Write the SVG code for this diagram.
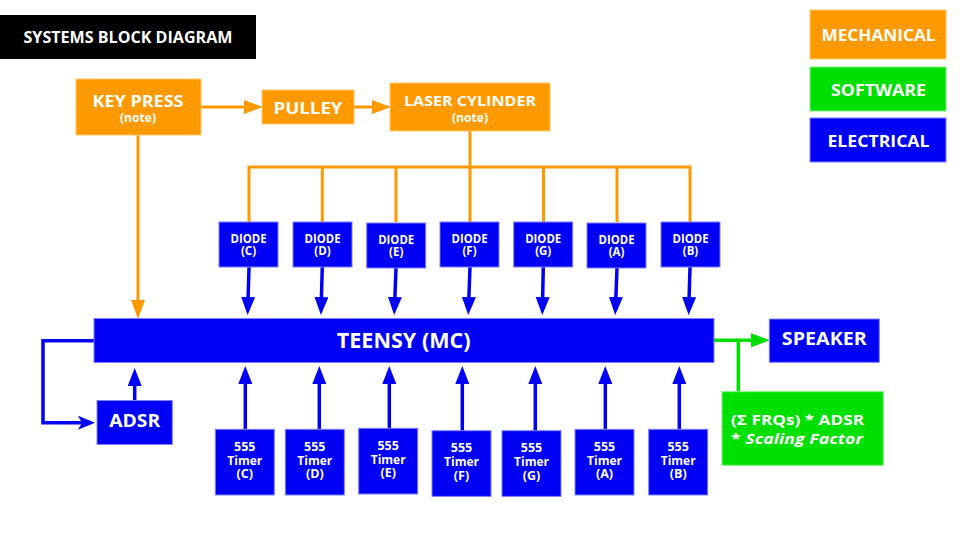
<svg xmlns="http://www.w3.org/2000/svg" width="960" height="540" viewBox="0 0 960 540">
<style>
text{font-family:"Open Sans","DejaVu Sans",sans-serif;font-weight:700;fill:#fff;text-anchor:middle}
.o{fill:#ff9900;stroke:#ffc766;stroke-width:1}
.b{fill:#0000f5;stroke:#7f7fff;stroke-width:1}
.g{fill:#00e000;stroke:#80f080;stroke-width:1}
.lo{stroke:#ff9900;stroke-width:3;fill:none}
.lb{stroke:#0000f5;stroke-width:3.5;fill:none}
.lg{stroke:#00e000;stroke-width:3.5;fill:none}
.s16{font-size:16px}
.s11{font-size:11.5px}
.s12{font-size:12.5px}
</style>
<defs>
<marker id="ao" markerUnits="userSpaceOnUse" markerWidth="20" markerHeight="16" refX="8" refY="7" orient="auto"><path d="M0,0 L19,7 L0,14 z" fill="#ff9900"/></marker>
<marker id="ab" markerUnits="userSpaceOnUse" markerWidth="20" markerHeight="16" refX="8" refY="7" orient="auto"><path d="M0,0 L18,7 L0,14 z" fill="#0000f5"/></marker>
<marker id="ag" markerUnits="userSpaceOnUse" markerWidth="20" markerHeight="16" refX="8" refY="7" orient="auto"><path d="M0,0 L19,7 L0,14 z" fill="#00e000"/></marker>
<marker id="as" markerUnits="userSpaceOnUse" markerWidth="20" markerHeight="16" refX="8" refY="7" orient="auto"><path d="M0,0 L17,7 L0,14 L4,7 z" fill="#0000f5"/></marker>
</defs>
<rect width="960" height="540" fill="#fff"/>

<g id="title">
<rect x="0" y="15" width="256" height="44" fill="#000"/>
<text x="128" y="43.3" class="s16" textLength="209" lengthAdjust="spacingAndGlyphs">SYSTEMS BLOCK DIAGRAM</text>
</g>

<g id="legend-mechanical"><rect x="810" y="10" width="136" height="49" class="o"/><text x="878.5" y="41" class="s16" textLength="114" lengthAdjust="spacingAndGlyphs">MECHANICAL</text></g>
<g id="legend-software"><rect x="810" y="67" width="136" height="44" class="g"/><text x="878.5" y="95.7" class="s16" textLength="95" lengthAdjust="spacingAndGlyphs">SOFTWARE</text></g>
<g id="legend-electrical"><rect x="810" y="118" width="136" height="44" class="b"/><text x="878.5" y="147.3" class="s16" textLength="102" lengthAdjust="spacingAndGlyphs">ELECTRICAL</text></g>

<g id="connectors">
<line x1="201" y1="107" x2="252" y2="107" class="lo" marker-end="url(#ao)"/>
<line x1="354" y1="107" x2="380" y2="107" class="lo" marker-end="url(#ao)"/>
<line x1="138" y1="135" x2="138" y2="308" class="lo" marker-end="url(#ao)"/>
<line x1="470" y1="131" x2="470" y2="222" class="lo"/>
<polyline points="249,222 249,167 690,167 690,222" class="lo"/>
<line x1="322.3" y1="167" x2="322.3" y2="222" class="lo"/>
<line x1="396" y1="167" x2="396" y2="222" class="lo"/>
<line x1="543.5" y1="167" x2="543.5" y2="222" class="lo"/>
<line x1="617" y1="167" x2="617" y2="222" class="lo"/>

<line x1="249" y1="267" x2="247.9" y2="305" class="lb" marker-end="url(#ab)"/>
<line x1="322.3" y1="267" x2="321.2" y2="305" class="lb" marker-end="url(#ab)"/>
<line x1="396" y1="268" x2="394.6" y2="305" class="lb" marker-end="url(#ab)"/>
<line x1="470" y1="267" x2="468.6" y2="305" class="lb" marker-end="url(#ab)"/>
<line x1="543.3" y1="267" x2="542.5" y2="305" class="lb" marker-end="url(#ab)"/>
<line x1="617" y1="268" x2="615.6" y2="305" class="lb" marker-end="url(#ab)"/>
<line x1="690" y1="267" x2="688.9" y2="305" class="lb" marker-end="url(#ab)"/>

<line x1="245.3" y1="429" x2="245.3" y2="376" class="lb" marker-end="url(#ab)"/>
<line x1="319.3" y1="429" x2="319.3" y2="376" class="lb" marker-end="url(#ab)"/>
<line x1="389.3" y1="428" x2="389.3" y2="376" class="lb" marker-end="url(#ab)"/>
<line x1="462.3" y1="431" x2="462.3" y2="376" class="lb" marker-end="url(#ab)"/>
<line x1="535.3" y1="431" x2="535.3" y2="376" class="lb" marker-end="url(#ab)"/>
<line x1="605.3" y1="429" x2="605.3" y2="376" class="lb" marker-end="url(#ab)"/>
<line x1="679.3" y1="429" x2="679.3" y2="376" class="lb" marker-end="url(#ab)"/>

<line x1="134.7" y1="400" x2="134.7" y2="378" class="lb" marker-end="url(#ab)"/>
<polyline points="94,340.7 43,340.7 43,422.7 86,422.7" class="lb" marker-end="url(#as)"/>

<line x1="714" y1="340.3" x2="759" y2="340.3" class="lg" marker-end="url(#ag)"/>
<line x1="738.3" y1="340.3" x2="738.3" y2="392" class="lg"/>
</g>

<g id="key-press"><rect x="76" y="79" width="125" height="56" class="o"/><text x="138" y="106.7" class="s16" textLength="91" lengthAdjust="spacingAndGlyphs">KEY PRESS</text><text x="138" y="121.5" class="s11" textLength="36" lengthAdjust="spacingAndGlyphs">(note)</text></g>
<g id="pulley"><rect x="262" y="90" width="92" height="34" class="o"/><text x="308" y="113.5" class="s16" style="font-size:16.5px" textLength="69" lengthAdjust="spacingAndGlyphs">PULLEY</text></g>
<g id="laser-cylinder"><rect x="390" y="83" width="160" height="48" class="o"/><text x="470" y="106" class="s16" style="font-size:15px" textLength="132" lengthAdjust="spacingAndGlyphs">LASER CYLINDER</text><text x="470" y="121.5" class="s11" textLength="36" lengthAdjust="spacingAndGlyphs">(note)</text></g>

<g id="diode-c"><rect x="219" y="222" width="59" height="45" class="b"/><text x="248.5" y="242.7" class="s11" textLength="36" lengthAdjust="spacingAndGlyphs">DIODE</text><text x="248.5" y="255" class="s11">(C)</text></g>
<g id="diode-d"><rect x="293" y="222" width="59" height="45" class="b"/><text x="322.5" y="242.7" class="s11" textLength="36" lengthAdjust="spacingAndGlyphs">DIODE</text><text x="322.5" y="255" class="s11">(D)</text></g>
<g id="diode-e"><rect x="366.7" y="223" width="59" height="45" class="b"/><text x="396.2" y="243.7" class="s11" textLength="36" lengthAdjust="spacingAndGlyphs">DIODE</text><text x="396.2" y="256" class="s11">(E)</text></g>
<g id="diode-f"><rect x="440" y="222" width="59" height="45" class="b"/><text x="469.5" y="242.7" class="s11" textLength="36" lengthAdjust="spacingAndGlyphs">DIODE</text><text x="469.5" y="255" class="s11">(F)</text></g>
<g id="diode-g"><rect x="513.7" y="222" width="59" height="45" class="b"/><text x="543.2" y="242.7" class="s11" textLength="36" lengthAdjust="spacingAndGlyphs">DIODE</text><text x="543.2" y="255" class="s11">(G)</text></g>
<g id="diode-a"><rect x="587" y="223" width="59" height="45" class="b"/><text x="616.5" y="243.7" class="s11" textLength="36" lengthAdjust="spacingAndGlyphs">DIODE</text><text x="616.5" y="256" class="s11">(A)</text></g>
<g id="diode-b"><rect x="661" y="222" width="59" height="45" class="b"/><text x="690.5" y="242.7" class="s11" textLength="36" lengthAdjust="spacingAndGlyphs">DIODE</text><text x="690.5" y="255" class="s11">(B)</text></g>

<g id="teensy"><rect x="94" y="318.5" width="620" height="44" class="b"/><text x="403.7" y="347.7" style="font-size:21px" textLength="134" lengthAdjust="spacingAndGlyphs">TEENSY (MC)</text></g>

<g id="adsr"><rect x="97" y="400.5" width="75.3" height="44" class="b"/><text x="134.7" y="427" style="font-size:18px" textLength="51" lengthAdjust="spacingAndGlyphs">ADSR</text></g>

<g id="timer-c"><rect x="215.3" y="429.3" width="59" height="65.7" class="b"/><text x="244.8" y="450.7" class="s12">555</text><text x="244.8" y="464.7" class="s12" textLength="35" lengthAdjust="spacingAndGlyphs">Timer</text><text x="244.8" y="478.3" class="s12">(C)</text></g>
<g id="timer-d"><rect x="285.3" y="429.3" width="59" height="65.7" class="b"/><text x="314.8" y="450.7" class="s12">555</text><text x="314.8" y="464.7" class="s12" textLength="35" lengthAdjust="spacingAndGlyphs">Timer</text><text x="314.8" y="478.3" class="s12">(D)</text></g>
<g id="timer-e"><rect x="358.7" y="428.3" width="59" height="65.7" class="b"/><text x="388.2" y="449.7" class="s12">555</text><text x="388.2" y="463.7" class="s12" textLength="35" lengthAdjust="spacingAndGlyphs">Timer</text><text x="388.2" y="477.3" class="s12">(E)</text></g>
<g id="timer-f"><rect x="432" y="430.7" width="59" height="65.7" class="b"/><text x="461.5" y="452" class="s12">555</text><text x="461.5" y="466" class="s12" textLength="35" lengthAdjust="spacingAndGlyphs">Timer</text><text x="461.5" y="479.6" class="s12">(F)</text></g>
<g id="timer-g"><rect x="502" y="430.7" width="59" height="65.7" class="b"/><text x="531.5" y="452" class="s12">555</text><text x="531.5" y="466" class="s12" textLength="35" lengthAdjust="spacingAndGlyphs">Timer</text><text x="531.5" y="479.6" class="s12">(G)</text></g>
<g id="timer-a"><rect x="575" y="429.3" width="59" height="65.7" class="b"/><text x="604.5" y="450.7" class="s12">555</text><text x="604.5" y="464.7" class="s12" textLength="35" lengthAdjust="spacingAndGlyphs">Timer</text><text x="604.5" y="478.3" class="s12">(A)</text></g>
<g id="timer-b"><rect x="648.7" y="429.3" width="59" height="65.7" class="b"/><text x="678.2" y="450.7" class="s12">555</text><text x="678.2" y="464.7" class="s12" textLength="35" lengthAdjust="spacingAndGlyphs">Timer</text><text x="678.2" y="478.3" class="s12">(B)</text></g>

<g id="speaker"><rect x="769.3" y="319" width="110" height="43.3" class="b"/><text x="824.3" y="345" style="font-size:17.5px" textLength="85" lengthAdjust="spacingAndGlyphs">SPEAKER</text></g>

<g id="formula"><rect x="722" y="391.7" width="161.3" height="73.6" class="g"/>
<text x="731" y="425.3" style="font-size:15px;text-anchor:start" textLength="133" lengthAdjust="spacingAndGlyphs">(Σ FRQs) * ADSR</text>
<text x="731" y="444" style="font-size:15px;text-anchor:start" textLength="132" lengthAdjust="spacingAndGlyphs">* <tspan font-style="italic">Scaling Factor</tspan></text>
</g>
</svg>
